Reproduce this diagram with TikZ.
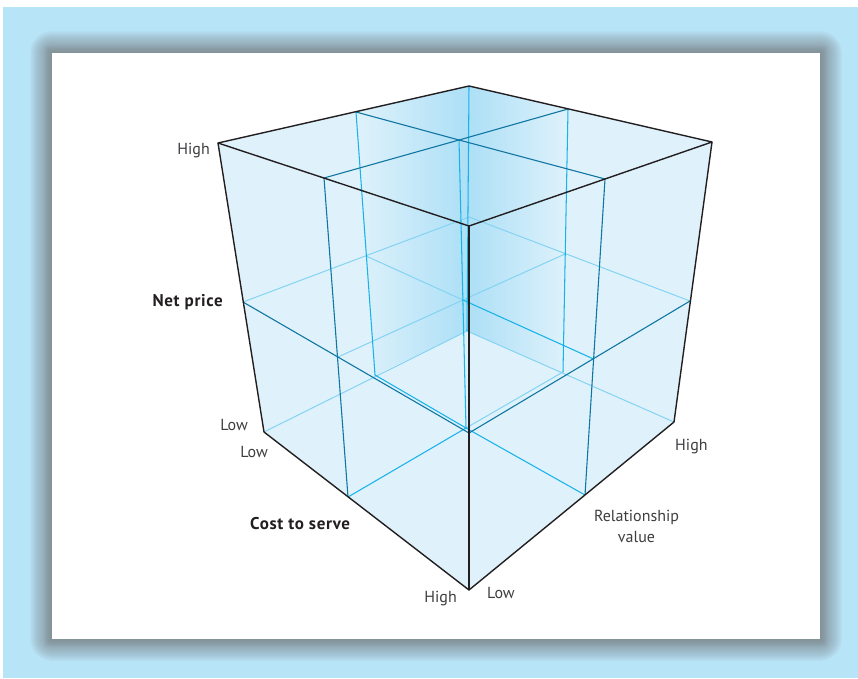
\documentclass[tikz,border=0pt]{standalone}
\usepackage{fontspec}
\setmainfont{PT Sans}
\newfontface\blfont{PT Sans Bold}[LetterSpace=4.0]
\usetikzlibrary{calc}
\definecolor{bgblue}{RGB}{184,228,247}
\definecolor{shadowgray}{RGB}{120,124,128}
\definecolor{cubefill}{RGB}{223,242,251}
\definecolor{backdark}{RGB}{172,223,246}
\definecolor{edgeblack}{RGB}{35,31,32}
\definecolor{dkblue}{RGB}{16,118,162}
\definecolor{cyanb}{RGB}{22,178,234}
\definecolor{cyanl}{RGB}{132,211,243}
\definecolor{txtgray}{RGB}{62,62,64}
\begin{document}
\begin{tikzpicture}[x=1pt,y=-1pt,
  outer/.style={draw=edgeblack,line width=1.4pt,line join=round},
  dline/.style={draw=dkblue,line width=1.1pt},
  bline/.style={draw=cyanb,line width=1.05pt},
  lline/.style={draw=cyanl,line width=1pt},
  lbl/.style={text=txtgray,font=\fontsize{16}{18}\selectfont,inner sep=0pt},
  blbl/.style={text=edgeblack,font=\fontsize{17}{19}\selectfont\blfont,inner sep=0pt}]
\useasboundingbox (0,0) rectangle (858,678);
% background
\fill[white] (0,0) rectangle (858,678);
\fill[bgblue] (3,7) rectangle (858,678);
\foreach \i in {1,...,22} {
  \fill[shadowgray,opacity=0.042,rounded corners=\i pt] ({52-\i},{53-\i}) rectangle ({820+\i},{639+\i});
}
\foreach \i in {1,...,8} {
  \fill[shadowgray,opacity=0.03] ({52-\i},{53-\i}) rectangle ({820+\i},{639+\i});
}
\fill[white] (52,53) rectangle (820,639);
% cube vertices
\coordinate (TL) at (218,143);
\coordinate (TB) at (469,86);
\coordinate (TR) at (712,142);
\coordinate (TF) at (469,226);
\coordinate (BL) at (264,432);
\coordinate (BF) at (469,590);
\coordinate (BR) at (674,422);
\coordinate (BB) at (467,331);
% plane A (cost = mid)
\coordinate (a1) at (324,178);
\coordinate (a2) at (568,109);
\coordinate (a3) at (348,497);
\coordinate (a4) at (563,372);
% plane B (relationship = mid)
\coordinate (b1) at (356,112);
\coordinate (b2) at (605,179);
\coordinate (b3) at (585,495);
\coordinate (b4) at (375,375);
% plane C (net price = mid)
\coordinate (c1) at (243,302);
\coordinate (c2) at (469,433);
\coordinate (c3) at (690,301);
\coordinate (c4) at (469,217);
% intersections
\coordinate (tc) at (459,140);
\coordinate (bc) at (466,428);
\coordinate (cc) at (463,300);
\coordinate (ac0) at (338,357);
\coordinate (ac1) at (565,254);
\coordinate (bc0) at (366,256);
\coordinate (bc1) at (593.6,359);
% fills
\fill[cubefill] (TL) -- (TB) -- (TR) -- (BR) -- (BF) -- (BL) -- cycle;
\shade[left color=cubefill,right color=backdark] (b1) -- (TB) -- (BB) -- (b4) -- cycle;
\shade[left color=backdark,right color=cubefill] (TB) -- (a2) -- (a4) -- (BB) -- cycle;
% hidden light lines
\draw[lline] (c1) -- (c4) -- (c3);
\draw[lline] (BL) -- (BB) -- (BR);
\draw[lline] (ac0) -- (cc) -- (ac1);
\draw[lline] (bc0) -- (cc);
\draw[lline] (bc) -- (a4);
% bright interior lines
\draw[bline] (tc) -- (bc);
\draw[bline] (cc) -- (bc1);
\draw[bline] (a3) -- (bc) -- (b3);
\draw[bline] (b4) -- (bc);
\draw[bline] (b1) -- (b4);
\draw[bline] (a2) -- (a4);
\draw[bline] (TB) -- (BB);
% visible face lines
\draw[dline] (a1) -- (tc) -- (a2);
\draw[dline] (b1) -- (tc) -- (b2);
\draw[dline] (a1) -- (a3);
\draw[dline] (b2) -- (b3);
\draw[dline] (c1) -- (c2) -- (c3);
% outer edges
\draw[outer] (TL) -- (TB) -- (TR) -- (TF) -- cycle;
\draw[outer] (TL) -- (BL) -- (BF) -- (BR) -- (TR);
\draw[outer] (TF) -- (BF);
% labels
\node[lbl,anchor=base east] (hiNP) at (210,154) {High};
\node[blbl,anchor=base east] (np) at (223,306) {Net price};
\node[lbl,anchor=base east] (loNP) at (248,430) {Low};
\node[lbl,anchor=base east] (loCS) at (268,457) {Low};
\node[blbl,anchor=base west] (cs) at (250,529) {Cost to serve};
\node[lbl,anchor=base east] (hiCS) at (457,602) {High};
\node[lbl,anchor=base west] (loRV) at (487,598) {Low};
\node[lbl,anchor=base] (rv1) at (636.5,521) {Relationship};
\node[lbl,anchor=base] (rv2) at (636.5,542) {value};
\node[lbl,anchor=base west] (hiRV) at (675,450) {High};
\end{tikzpicture}
\end{document}
